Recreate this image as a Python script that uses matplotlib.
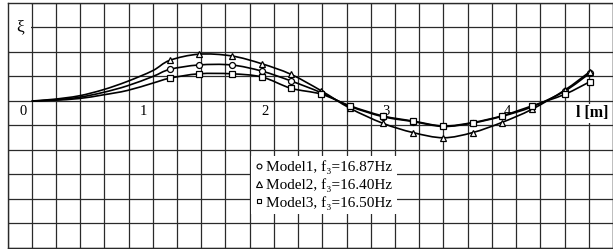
import matplotlib
matplotlib.use("Agg")
import matplotlib.pyplot as plt
from matplotlib.lines import Line2D
from matplotlib.patches import Rectangle, PathPatch
from matplotlib.path import Path

# ---- data ----
# x positions along the beam [m]; first 6 points are unmarked curve points
l_line = [0.0, 0.18, 0.39, 0.59, 0.79, 1.0,
          1.14, 1.38, 1.65, 1.90, 2.14, 2.39, 2.63, 2.90, 3.15, 3.40, 3.64, 3.88, 4.13, 4.40, 4.61]
n_unmarked = 6

xi_model1 = [0.0, 0.04, 0.15, 0.35, 0.62, 1.00,
             1.29, 1.47, 1.47, 1.22, 0.82, 0.34, -0.22, -0.64, -0.84, -1.04, -0.90, -0.63, -0.24, 0.40, 1.14]
xi_model2 = [0.0, 0.07, 0.21, 0.46, 0.80, 1.24,
             1.66, 1.91, 1.84, 1.52, 1.09, 0.42, -0.30, -0.91, -1.29, -1.50, -1.29, -0.88, -0.34, 0.44, 1.20]
xi_model3 = [0.0, 0.03, 0.10, 0.25, 0.43, 0.73,
             0.93, 1.11, 1.11, 0.98, 0.52, 0.28, -0.20, -0.61, -0.82, -1.02, -0.88, -0.61, -0.20, 0.27, 0.79]

labels = ["Model1, f\u2083=16.87Hz", "Model2, f\u2083=16.40Hz", "Model3, f\u2083=16.50Hz"]
markers = ["o", "^", "s"]
x_tick_labels = ["0", "1", "2", "3", "4"]
x_tick_vals = [0, 1, 2, 3, 4]


def smooth_path(xs, ys):
    """Cubic Bezier path through the given points (Catmull-Rom style tangents)."""
    verts = [(xs[0], ys[0])]
    codes = [Path.MOVETO]
    n = len(xs)
    for i in range(n - 1):
        x0, y0 = (xs[i - 1], ys[i - 1]) if i > 0 else (xs[i], ys[i])
        x1, y1 = xs[i], ys[i]
        x2, y2 = xs[i + 1], ys[i + 1]
        x3, y3 = (xs[i + 2], ys[i + 2]) if i + 2 < n else (xs[i + 1], ys[i + 1])
        c1 = (x1 + (x2 - x0) / 6.0, y1 + (y2 - y0) / 6.0)
        c2 = (x2 - (x3 - x1) / 6.0, y2 - (y3 - y1) / 6.0)
        verts += [c1, c2, (x2, y2)]
        codes += [Path.CURVE4] * 3
    return Path(verts, codes)


# ---- figure ----
W, H = 613, 249
fig = plt.figure(figsize=(W / 100, H / 100), dpi=100)
left_px, right_px, top_px, bot_px = 7.5, 613, 3, 248
ax = fig.add_axes([left_px / W, 1 - bot_px / H, (right_px - left_px) / W, (bot_px - top_px) / H])
ax.set_xlim(-0.2, -0.2 + (right_px - left_px) / 121.7)
ax.set_ylim(-6, 4)

gcol = "#2a2a2a"
ax.set_xticks([-0.2 + 0.2 * i for i in range(26)])
ax.set_yticks(list(range(-6, 5)))
ax.tick_params(length=0, labelbottom=False, labelleft=False)
ax.grid(True, color=gcol, lw=0.9)
ax.set_axisbelow(True)
for s in ax.spines.values():
    s.set_color(gcol)
    s.set_linewidth(1.0)

serif = ["Liberation Serif", "DejaVu Serif"]

# white cell for the xi label
ax.add_patch(Rectangle((-0.197, 2.03), 0.19, 1.94, facecolor="white", edgecolor="none", zorder=1))
ax.text(-0.095, 3.0, "\u03be", family=serif, fontsize=12.5, ha="center", va="center", zorder=3)

for series, m in zip([xi_model1, xi_model2, xi_model3], markers):
    ax.add_patch(PathPatch(smooth_path(l_line, series), facecolor="none", edgecolor="black",
                           lw=1.2, zorder=4))
    ax.plot(l_line[n_unmarked:], series[n_unmarked:], ls="none", marker=m,
            ms=4.3 if m != "^" else 5, mfc="white", mec="black", mew=0.9, zorder=5)

for v, t in zip(x_tick_vals, x_tick_labels):
    ax.text(v - 0.075, -0.42, t, family=serif, fontsize=10.5, ha="center", va="center", zorder=3)

ax.text(4.63, -0.5, "l [m]", family=serif, fontsize=11.5, fontweight="bold", ha="center", va="center",
        zorder=3, bbox=dict(facecolor="white", edgecolor="none", pad=1.0))

handles = [Line2D([], [], ls="none", marker=m, ms=3.5 if m != "^" else 4, mfc="white", mec="black", mew=0.8)
           for m in markers]
leg = ax.legend(handles, labels, loc="upper left", bbox_to_anchor=(251 / W, 1 - 156 / H),
                bbox_transform=fig.transFigure, prop=dict(family=serif, size=11.0),
                frameon=True, fancybox=False, framealpha=1, facecolor="white", edgecolor="none",
                borderaxespad=0, borderpad=0.3, handlelength=0.5, handletextpad=0.2, labelspacing=0.25)
leg.set_zorder(6)

fig.savefig("out.png", dpi=100)
